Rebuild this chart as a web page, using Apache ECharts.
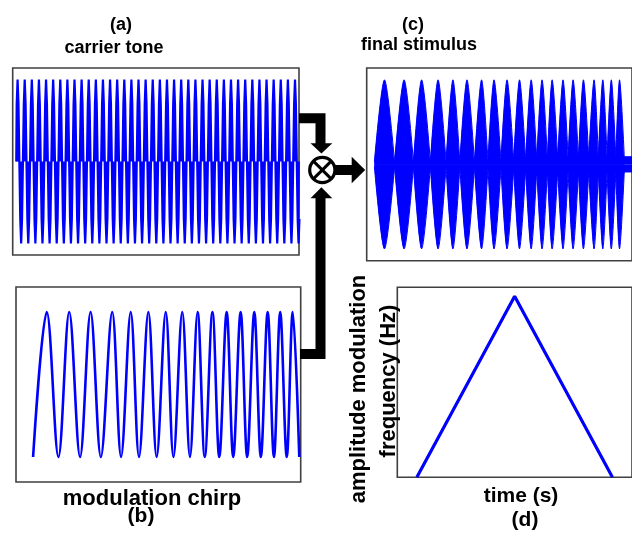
<!DOCTYPE html>
<html>
<head>
<meta charset="utf-8">
<script src="https://cdn.jsdelivr.net/npm/echarts@6/dist/echarts.min.js"></script>
<style>
  html, body { margin: 0; padding: 0; background: #fff; }
  #chart { width: 632px; height: 535px; }
</style>
</head>
<body>
<div id="chart"></div>
<script>
// (a) carrier tone: sampled sine levels, eight samples per cycle
const carrierLevels = [
  0,.7,1,.7,0,-.7,-1,-.7, 0,.7,1,.7,0,-.7,-1,-.7, 0,.7,1,.7,0,-.7,-1,-.7, 0,.7,1,.7,0,-.7,-1,-.7, 0,.7,1,.7,0,-.7,-1,-.7,
  0,.7,1,.7,0,-.7,-1,-.7, 0,.7,1,.7,0,-.7,-1,-.7, 0,.7,1,.7,0,-.7,-1,-.7, 0,.7,1,.7,0,-.7,-1,-.7, 0,.7,1,.7,0,-.7,-1,-.7,
  0,.7,1,.7,0,-.7,-1,-.7, 0,.7,1,.7,0,-.7,-1,-.7, 0,.7,1,.7,0,-.7,-1,-.7, 0,.7,1,.7,0,-.7,-1,-.7, 0,.7,1,.7,0,-.7,-1,-.7,
  0,.7,1,.7,0,-.7,-1,-.7, 0,.7,1,.7,0,-.7,-1,-.7, 0,.7,1,.7,0,-.7,-1,-.7, 0,.7,1,.7,0,-.7,-1,-.7, 0,.7,1,.7,0,-.7,-1,-.7,
  0,.7,1,.7,0,-.7,-1,-.7, 0,.7,1,.7,0,-.7,-1,-.7, 0,.7,1,.7,0,-.7,-1,-.7, 0,.7,1,.7,0,-.7,-1,-.7, 0,.7,1,.7,0,-.7,-1,-.7,
  0,.7,1,.7,0,-.7,-1,-.7, 0,.7,1,.7,0,-.7,-1,-.7, 0,.7,1,.7,0,-.7,-1,-.7, 0,.7,1,.7,0,-.7,-1,-.7, 0,.7,1,.7,0,-.7,-1,-.7,
  0,.7,1,.7,0,-.7,-1,-.7, 0,.7,1,.7,0,-.7,-1,-.7, 0,.7,1,.7,0,-.7,-1,-.7, 0,.7,1,.7,0,-.7,-1,-.7, 0,.7,1,.7,0,-.7,-1,-.7,
  0,.7,1,.7,0,-.7,-1,-.7, 0,.7,1,.7,0,-.7,-1,-.7, 0,.7,1,.7,0,-.7,-1,-.7, 0,.7,1,.7,0,-.7,-1,-.7, 0,.7,1,.7,0,-.7,-1,-.7
];

// (b) modulation chirp: times of successive troughs / peaks (normalised time)
const chirpTimes = [
  0.060, 0.108, 0.149, 0.187, 0.225, 0.262, 0.298, 0.338, 0.369, 0.403, 0.432,
  0.465, 0.494, 0.526, 0.553, 0.584, 0.611, 0.638, 0.663, 0.690, 0.714, 0.740,
  0.763, 0.789, 0.812, 0.837, 0.860, 0.884, 0.906, 0.928, 0.951, 0.972, 0.995
];
const chirpValues = [
  -1, 1, -1, 1, -1, 1, -1, 1, -1, 1, -1,
   1, -1, 1, -1, 1, -1, 1, -1, 1, -1, 1,
  -1, 1, -1, 1, -1, 1, -1, 1, -1, 1, -1
];

// (c) final stimulus: envelope turning points (normalised time) and envelope height
const stimTimes = [
  0.029, 0.067, 0.105, 0.141, 0.176, 0.207, 0.240, 0.269, 0.299, 0.325, 0.351,
  0.378, 0.406, 0.433, 0.457, 0.480, 0.506, 0.529, 0.554, 0.576, 0.599, 0.620,
  0.641, 0.661, 0.681, 0.699, 0.720, 0.740, 0.759, 0.778, 0.798, 0.817, 0.837,
  0.857, 0.873, 0.890, 0.906, 0.922, 0.939, 0.953, 0.971
];
const stimEnvelope = [
  0.03, 1, 0.03, 1, 0.03, 1, 0.03, 1, 0.03, 1, 0.03,
  1, 0.03, 1, 0.04, 1, 0.04, 1, 0.05, 1, 0.05, 1,
  0.06, 1, 0.07, 1, 0.07, 1, 0.08, 1, 0.08, 1, 0.08,
  1, 0.08, 1, 0.08, 1, 0.08, 1, 0.08
];
// residual carrier level that stays between the lobes
const floorTimes = [0.029, 0.35, 0.64, 1.0];
const floorLevel = [0.03, 0.03, 0.09, 0.09];

// (d) amplitude-modulation frequency over time
const sweepTime = [1, 6, 11];
const sweepFreq = [2, 12, 2];

const BLUE = '#0000ff';
const FRAME = '#404040';
const FONT = '"Liberation Sans", Arial, sans-serif';

const chart = echarts.init(document.getElementById('chart'), null, { renderer: 'canvas' });

const grids = [
  { left: 12.7, top: 68, width: 286.3, height: 187 },      // (a)
  { left: 16, top: 287, width: 284.7, height: 195 },       // (b)
  { left: 366.7, top: 68, width: 284.7, height: 192.7 },   // (c)
  { left: 397.3, top: 287.3, width: 251.4, height: 190 }   // (d)
].map(g => Object.assign({ show: true, borderColor: FRAME, borderWidth: 1.6, backgroundColor: '#fff', containLabel: false }, g));

const hiddenAxis = { show: false, type: 'value' };

const xAxes = [
  Object.assign({}, hiddenAxis, { gridIndex: 0, min: -4, max: 318 }),
  Object.assign({}, hiddenAxis, { gridIndex: 1, min: 0, max: 1 }),
  Object.assign({}, hiddenAxis, { gridIndex: 2, min: 0, max: 1 }),
  Object.assign({}, hiddenAxis, { gridIndex: 3, min: 0, max: 12 })
];
const yAxes = [
  Object.assign({}, hiddenAxis, { gridIndex: 0, min: -1.14, max: 1.14 }),
  Object.assign({}, hiddenAxis, { gridIndex: 1, min: -1.345, max: 1.345 }),
  Object.assign({}, hiddenAxis, { gridIndex: 2, min: -1.14, max: 1.14 }),
  Object.assign({}, hiddenAxis, { gridIndex: 3, min: 2, max: 12.5 })
];

const carrierData = carrierLevels.map((v, i) => [i, v]);
const chirpData = chirpTimes.map((t, i) => [t, chirpValues[i]]);

// each envelope lobe (trough - peak - trough) is its own smoothed segment,
// so the lobes meet in a point at the troughs and round off at the peaks
function lobes(sign) {
  const out = [];
  for (let i = 0; i + 2 < stimTimes.length; i += 2) {
    out.push([stimTimes[i], sign * stimEnvelope[i]]);
    out.push([stimTimes[i + 1], sign * stimEnvelope[i + 1]]);
    out.push([stimTimes[i + 2], sign * stimEnvelope[i + 2]]);
    out.push([null, null]);
  }
  return out;
}
const stimUpper = lobes(1);
const stimLower = lobes(-1);
const floorUpper = floorTimes.map((t, i) => [t, floorLevel[i]]);
const floorLower = floorTimes.map((t, i) => [t, -floorLevel[i]]);
const sweepData = sweepTime.map((t, i) => [t, sweepFreq[i]]);

const lineBase = { type: 'line', symbol: 'none', silent: true, animation: false, clip: true };
const filled = { lineStyle: { color: BLUE, width: 1 }, areaStyle: { color: BLUE, opacity: 1, origin: 0 } };

const series = [
  // stepped samples filled down to zero give the solid blocks of the plotted tone
  Object.assign({}, lineBase, {
    name: 'carrier tone', xAxisIndex: 0, yAxisIndex: 0, data: carrierData, step: 'middle',
    lineStyle: { color: BLUE, width: 2.2 }, areaStyle: { color: BLUE, opacity: 1, origin: 0 }
  }),
  Object.assign({}, lineBase, {
    name: 'modulation chirp', xAxisIndex: 1, yAxisIndex: 1, data: chirpData, smooth: 0.35,
    lineStyle: { color: BLUE, width: 2.6 }
  }),
  Object.assign({}, lineBase, filled, {
    name: 'final stimulus +', xAxisIndex: 2, yAxisIndex: 2, data: stimUpper, smooth: 0.3, connectNulls: false
  }),
  Object.assign({}, lineBase, filled, {
    name: 'final stimulus -', xAxisIndex: 2, yAxisIndex: 2, data: stimLower, smooth: 0.3, connectNulls: false
  }),
  Object.assign({}, lineBase, filled, {
    name: 'residual +', xAxisIndex: 2, yAxisIndex: 2, data: floorUpper
  }),
  Object.assign({}, lineBase, filled, {
    name: 'residual -', xAxisIndex: 2, yAxisIndex: 2, data: floorLower
  }),
  Object.assign({}, lineBase, {
    name: 'AM frequency', xAxisIndex: 3, yAxisIndex: 3, data: sweepData,
    lineStyle: { color: BLUE, width: 3.2 }
  })
];

function label(text, x, y, size, extra) {
  return Object.assign({
    type: 'text', x: x, y: y, silent: true, z: 10,
    style: { text: text, fill: '#000', font: 'bold ' + size + 'px ' + FONT, align: 'center', verticalAlign: 'middle' }
  }, extra || {});
}

// block-diagram connectors: multiplier node with arrows
const connectors = [
  { type: 'polyline', shape: { points: [[299, 118.3], [320.5, 118.3], [320.5, 144]] },
    style: { stroke: '#000', lineWidth: 10, fill: null, lineJoin: 'miter', lineCap: 'butt' } },
  { type: 'polygon', shape: { points: [[310.5, 143.3], [332.3, 143.3], [321.4, 153.5]] }, style: { fill: '#000' } },
  { type: 'polyline', shape: { points: [[300, 354], [320.5, 354], [320.5, 197]] },
    style: { stroke: '#000', lineWidth: 10, fill: null, lineJoin: 'miter', lineCap: 'butt' } },
  { type: 'polygon', shape: { points: [[310.5, 198.3], [332.3, 198.3], [321.4, 187.3]] }, style: { fill: '#000' } },
  { type: 'line', shape: { x1: 335, y1: 170, x2: 352.5, y2: 170 }, style: { stroke: '#000', lineWidth: 10 } },
  { type: 'polygon', shape: { points: [[351.7, 156.7], [351.7, 183.3], [365.2, 170]] }, style: { fill: '#000' } },
  { type: 'circle', shape: { cx: 322.3, cy: 170, r: 12.6 }, style: { fill: '#fff', stroke: '#000', lineWidth: 3.2 } },
  { type: 'line', shape: { x1: 313.4, y1: 161.1, x2: 331.2, y2: 178.9 }, style: { stroke: '#000', lineWidth: 3 } },
  { type: 'line', shape: { x1: 331.2, y1: 161.1, x2: 313.4, y2: 178.9 }, style: { stroke: '#000', lineWidth: 3 } }
].map(e => Object.assign({ silent: true, z: 5 }, e));

const texts = [
  label('(a)', 121, 25, 18),
  label('carrier tone', 114, 48.5, 18),
  label('(c)', 413, 25, 18),
  label('final stimulus', 419, 45.5, 18),
  label('modulation chirp', 152, 499, 22),
  label('(b)', 141, 516, 21),
  label('time (s)', 521, 496, 21),
  label('(d)', 525, 520, 21),
  label('amplitude modulation', 359, 389, 22, { rotation: Math.PI / 2 }),
  label('frequency (Hz)', 388.5, 381, 22, { rotation: Math.PI / 2 })
];

chart.setOption({
  animation: false,
  backgroundColor: '#fff',
  grid: grids,
  xAxis: xAxes,
  yAxis: yAxes,
  series: series,
  graphic: connectors.concat(texts)
});
</script>
</body>
</html>
